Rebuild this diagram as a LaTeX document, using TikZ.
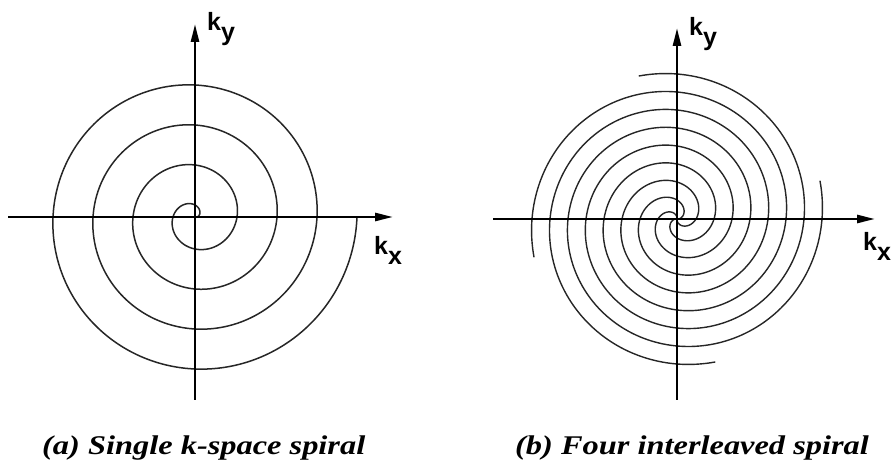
\documentclass[tikz,border=0pt]{standalone}
\usepackage{fontspec}
\setmainfont{Liberation Serif}
\newfontfamily\labfont{Liberation Sans}
\usetikzlibrary{arrows.meta}
\newcommand{\capwide}[1]{\scalebox{1.2}[1]{#1}}
\begin{document}
\begin{tikzpicture}[x=1pt,y=1pt,
  axis/.style={line width=2.6pt, -{Triangle[length=18pt,width=8pt]}},
  spir/.style={line width=1.5pt, black!85},
  lab/.style={inner sep=0pt, anchor=north west, font=\labfont\bfseries\fontsize{25}{25}\selectfont},
  captext/.style={inner sep=0pt, anchor=base west, font=\bfseries\itshape\fontsize{27}{30}\selectfont}]
\useasboundingbox (0,0) rectangle (891,470);
\clip (0,0) rectangle (891,470);
% ---- left panel: single spiral
\coordinate (oa) at (195,253);
\coordinate (axa1) at (8,253);
\coordinate (axa2) at (393,253);
\coordinate (aya1) at (195,70);
\coordinate (aya2) at (195,446);
\begin{scope}[shift={(oa)}]
  \draw[spir] plot[domain=-18:1440, samples=600, smooth]
    ({(2+\x/9)*cos(\x)}, {(2+\x/9)*sin(\x)});
\end{scope}
\draw[axis] (axa1) -- (axa2);
\draw[axis] (aya1) -- (aya2);
\node[lab] (kya) at (207,458) {k\raisebox{-10pt}{y}};
\node[lab] (kxa) at (374,234) {k\raisebox{-10pt}{x}};
% ---- right panel: four interleaved spirals
\coordinate (ob) at (677,251);
\coordinate (axb1) at (493,251);
\coordinate (axb2) at (875,251);
\coordinate (ayb1) at (677,70);
\coordinate (ayb2) at (677,442);
\begin{scope}[shift={(ob)}]
  \foreach \k in {0,1,2,3}
    \draw[spir, line width=1.4pt] plot[domain=0:740, samples=400, smooth]
      ({0.2*\x*cos(\x+90*\k-5)}, {0.2*\x*sin(\x+90*\k-5)});
\end{scope}
\draw[axis] (axb1) -- (axb2);
\draw[axis] (ayb1) -- (ayb2);
\node[lab] (kyb) at (689,453) {k\raisebox{-10pt}{y}};
\node[lab] (kxb) at (863,238) {k\raisebox{-10pt}{x}};
% ---- captions
\node[captext] (capa) at (42,15) {\capwide{(a) Single k-space spiral}};
\node[captext] (capb) at (515,15) {\capwide{(b) Four interleaved spiral}};
\end{tikzpicture}
\end{document}
